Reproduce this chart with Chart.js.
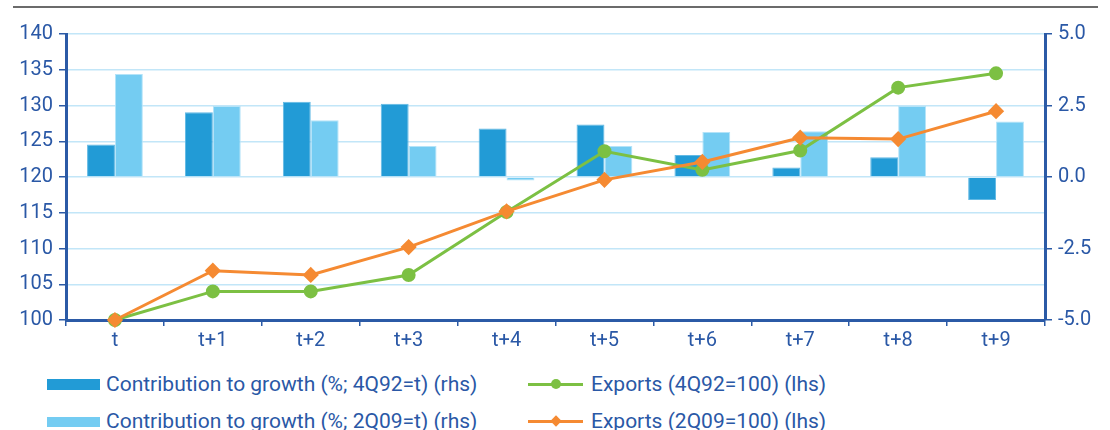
<!DOCTYPE html>
<html>
<head>
<meta charset="utf-8">
<script src="https://cdn.jsdelivr.net/npm/chart.js@4/dist/chart.umd.min.js"></script>
<style>
  body { margin: 0; background: #fff; }
  #wrap { position: relative; width: 1110px; height: 430px; overflow: hidden; font-family: Roboto, "Open Sans", sans-serif; }
  #rule { position: absolute; left: 13px; top: 6px; width: 1085px; height: 2px; background: #6b6b6b; }
  #box { position: absolute; left: 0; top: 0; width: 1110px; height: 360px; }
  .lab { position: absolute; font-size: 21px; line-height: 21px; color: #2a58a6; white-space: nowrap; }
  .sw { position: absolute; }
</style>
</head>
<body>
<div id="wrap">
  <div id="rule"></div>
  <div id="box"><canvas id="chart"></canvas></div>
</div>
<script>
const periods = ["t", "t+1", "t+2", "t+3", "t+4", "t+5", "t+6", "t+7", "t+8", "t+9"];

// contribution to growth, % (right axis)
const contrib4Q92 = [1.14, 2.26, 2.63, 2.56, 1.70, 1.84, 0.77, 0.33, 0.69, -0.80];
const contrib2Q09 = [3.60, 2.48, 1.98, 1.08, -0.12, 1.08, 1.57, 1.60, 2.48, 1.94];

// export index levels (left axis)
const exports4Q92 = [100, 104.0, 104.0, 106.3, 115.1, 123.6, 121.0, 123.7, 132.5, 134.5];
const exports2Q09 = [100, 106.9, 106.3, 110.2, 115.2, 119.6, 122.1, 125.5, 125.3, 129.2];

const leftTicks = { min: 100, max: 140, step: 5 };
const rightTicks = { min: -5, max: 5, step: 2.5 };

const seriesNames = [
  "Contribution to growth (%; 4Q92=t) (rhs)",
  "Contribution to growth (%; 2Q09=t) (rhs)",
  "Exports (4Q92=100) (lhs)",
  "Exports (2Q09=100) (lhs)"
];

const DARK = "#229bd6", LIGHT = "#74ccf2", GREEN = "#7cc043", ORANGE = "#f58a32";
const AXIS = "#2b5aa6", GRID = "#c2e6f8", TEXT = "#2a58a6";
const tickFont = { family: "Roboto", size: 20 };

new Chart(document.getElementById("chart"), {
  type: "bar",
  data: {
    labels: periods,
    datasets: [
      {
        type: "line",
        label: seriesNames[3],
        data: exports2Q09,
        yAxisID: "y",
        borderColor: ORANGE,
        backgroundColor: ORANGE,
        borderWidth: 3,
        pointStyle: "rectRot",
        pointRadius: 6,
        tension: 0,
        clip: false,
        order: 0
      },
      {
        type: "line",
        label: seriesNames[2],
        data: exports4Q92,
        yAxisID: "y",
        borderColor: GREEN,
        backgroundColor: GREEN,
        borderWidth: 3,
        pointStyle: "circle",
        pointRadius: 5.5,
        tension: 0,
        clip: false,
        order: 1
      },
      {
        label: seriesNames[0],
        data: contrib4Q92,
        yAxisID: "y1",
        backgroundColor: DARK,
        borderColor: "#62b9e4",
        borderWidth: 1,
        categoryPercentage: 0.57,
        barPercentage: 1,
        order: 2
      },
      {
        label: seriesNames[1],
        data: contrib2Q09,
        yAxisID: "y1",
        backgroundColor: LIGHT,
        borderColor: "#b4e3f8",
        borderWidth: 1,
        categoryPercentage: 0.57,
        barPercentage: 1,
        order: 2
      }
    ]
  },
  options: {
    responsive: true,
    maintainAspectRatio: false,
    animation: false,
    layout: { padding: { top: 34, bottom: 0, left: 0, right: 0 } },
    plugins: {
      legend: { display: false },
      tooltip: { enabled: false }
    },
    scales: {
      x: {
        afterFit: s => { s.height = 40; },
        grid: { drawOnChartArea: false, drawTicks: true, tickLength: 6, tickColor: AXIS, lineWidth: 1.5, offset: true },
        border: { color: AXIS, width: 3 },
        ticks: { color: TEXT, font: tickFont, padding: 3 }
      },
      y: {
        position: "left",
        min: leftTicks.min,
        max: leftTicks.max,
        afterFit: s => { s.width = 66; },
        grid: { color: GRID, lineWidth: 1.5, tickColor: AXIS, tickLength: 7 },
        border: { color: AXIS, width: 3 },
        ticks: { stepSize: leftTicks.step, color: TEXT, font: tickFont, padding: 6 }
      },
      y1: {
        position: "right",
        min: rightTicks.min,
        max: rightTicks.max,
        afterFit: s => { s.width = 65; },
        grid: { drawOnChartArea: false, tickColor: AXIS, tickLength: 7, lineWidth: 1.5 },
        border: { color: AXIS, width: 3 },
        ticks: { stepSize: rightTicks.step, color: TEXT, font: tickFont, padding: 6,
                 callback: v => Number(v).toFixed(1) }
      }
    }
  }
});

// legend, two columns
const wrap = document.getElementById("wrap");
function add(cls, css, text) {
  const el = document.createElement("div");
  el.className = cls;
  el.style.cssText = css;
  if (text) el.textContent = text;
  wrap.appendChild(el);
  return el;
}
add("sw", `left:47px;top:379px;width:53px;height:11px;background:${DARK}`);
add("lab", "left:106px;top:374px", seriesNames[0]);
add("sw", `left:47px;top:417px;width:53px;height:10px;background:${LIGHT}`);
add("lab", "left:106px;top:411px", seriesNames[1]);

add("sw", `left:528px;top:383px;width:55px;height:3px;background:${GREEN}`);
add("sw", `left:551px;top:379px;width:10px;height:10px;border-radius:50%;background:${GREEN}`);
add("lab", "left:591px;top:374px", seriesNames[2]);
add("sw", `left:528px;top:420px;width:55px;height:3px;background:${ORANGE}`);
add("sw", `left:552px;top:417px;width:8px;height:8px;transform:rotate(45deg);background:${ORANGE}`);
add("lab", "left:591px;top:411px", seriesNames[3]);
</script>
</body>
</html>
